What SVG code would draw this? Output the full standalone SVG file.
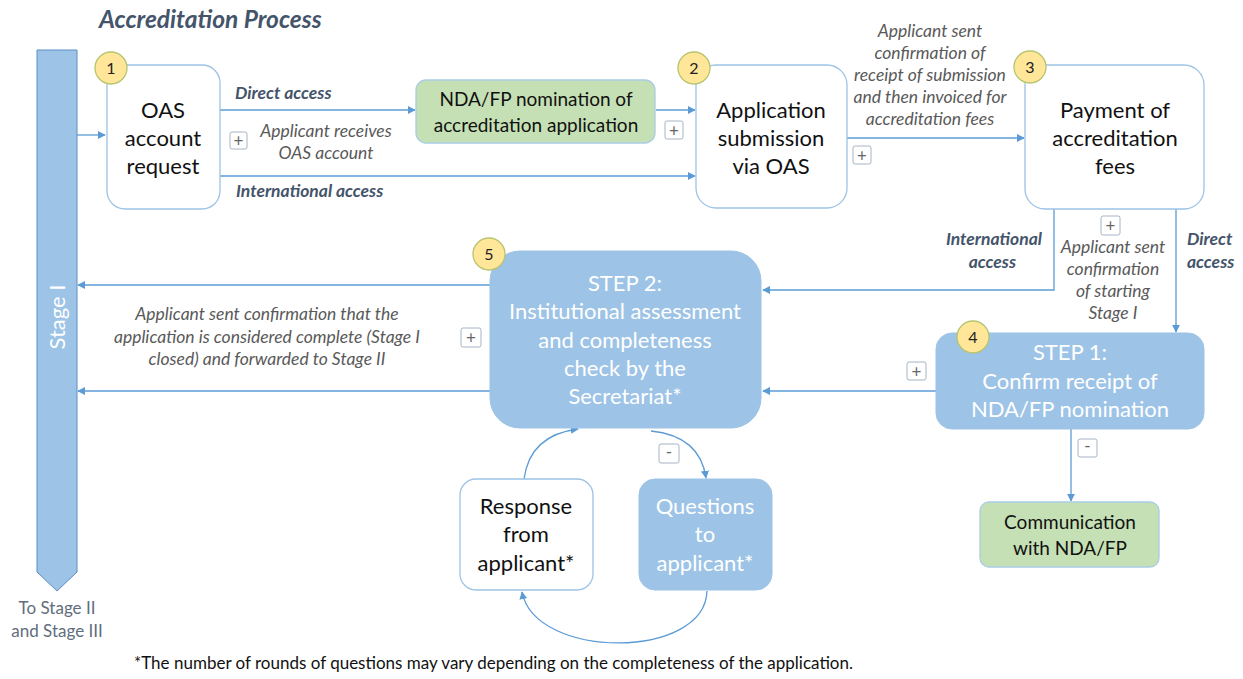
<svg xmlns="http://www.w3.org/2000/svg" width="1243" height="679" viewBox="0 0 1243 679">
<defs>
<marker id="ah" viewBox="0 0 10 10" refX="9" refY="5" markerWidth="8" markerHeight="8" markerUnits="userSpaceOnUse" orient="auto">
<path d="M0,0 L10,5 L0,10 z" fill="#5b9bd5"/>
</marker>
<style>
text{font-family:Lato,"Liberation Sans",sans-serif}
.ln{fill:none;stroke:#5b9bd5;stroke-width:1.3}
.wbox{fill:#fff;stroke:#9dc3e6;stroke-width:1.3}
.bbox{fill:#9dc3e6;stroke:#9dc3e6;stroke-width:1}
.gbox{fill:#c5e0b4;stroke:#a9cde3;stroke-width:1.3}
.badge{fill:#ffe699;stroke:#b7c46e;stroke-width:1.3}
.bt{font-size:16px;fill:#222;text-anchor:middle}
.nt{font-size:22px;fill:#111;text-anchor:middle}
.wt{font-size:22px;fill:#fff;text-anchor:middle}
.gt{font-size:19px;fill:#111;text-anchor:middle}
.lab{font-size:17.5px;fill:#595959;font-style:italic;text-anchor:middle}
.blab{font-size:17.5px;fill:#44546a;font-style:italic;font-weight:bold}
.pb{fill:#fff;stroke:#a6b4c4;stroke-width:1}
.pt{font-size:17px;fill:#666;text-anchor:middle}
</style>
</defs>
<text x="99" y="28" style="font-size:24.5px;font-weight:bold;font-style:italic;fill:#44546a">Accreditation Process</text>

<g id="stage-bar">
<path d="M37,50 H77 V572 L57,591 L37,572 Z" fill="#9dc3e6" stroke="#5b8ec4" stroke-width="1"/>
<text x="0" y="0" transform="translate(65,317) rotate(-90)" style="font-size:22px;fill:#fff;text-anchor:middle">Stage I</text>
<text x="57" y="614" style="font-size:17px;fill:#5f6d7e;text-anchor:middle">To Stage II</text>
<text x="57" y="637" style="font-size:17px;fill:#5f6d7e;text-anchor:middle">and Stage III</text>
</g>

<g id="connectors">
<line class="ln" x1="77" y1="135" x2="105" y2="135" marker-end="url(#ah)"/>
<line class="ln" x1="220" y1="110" x2="415" y2="110" marker-end="url(#ah)"/>
<line class="ln" x1="220" y1="176" x2="695" y2="176" marker-end="url(#ah)"/>
<line class="ln" x1="656" y1="110" x2="695" y2="110" marker-end="url(#ah)"/>
<line class="ln" x1="847" y1="138" x2="1024" y2="138" marker-end="url(#ah)"/>
<polyline class="ln" points="1054,209 1054,290 763,290" marker-end="url(#ah)"/>
<line class="ln" x1="1176" y1="209" x2="1176" y2="332" marker-end="url(#ah)"/>
<line class="ln" x1="936" y1="391" x2="763" y2="391" marker-end="url(#ah)"/>
<line class="ln" x1="1071" y1="429" x2="1071" y2="501" marker-end="url(#ah)"/>
<line class="ln" x1="490" y1="285" x2="78" y2="285" marker-end="url(#ah)"/>
<line class="ln" x1="490" y1="391" x2="78" y2="391" marker-end="url(#ah)"/>
<path class="ln" d="M524,479 Q530,435 578,429" marker-end="url(#ah)"/>
<path class="ln" d="M651,431 Q700,436 706,478" marker-end="url(#ah)"/>
<path class="ln" d="M707,591 C705,660 535,660 522,592" marker-end="url(#ah)"/>

<text x="235" y="99" class="blab">Direct access</text>
<text x="236" y="197" class="blab">International access</text>
<rect class="pb" x="230" y="132" width="17" height="17" rx="2"/><text x="238.5" y="146.5" class="pt">+</text>
<text x="326" y="137" class="lab">Applicant receives</text>
<text x="326" y="159" class="lab">OAS account</text>
<rect class="pb" x="665" y="121" width="18" height="18" rx="2"/><text x="674" y="136.5" class="pt">+</text>
<text x="930" y="37" class="lab">Applicant sent</text>
<text x="930" y="59" class="lab">confirmation of</text>
<text x="930" y="81" class="lab">receipt of submission</text>
<text x="930" y="103" class="lab">and then invoiced for</text>
<text x="930" y="125" class="lab">accreditation fees</text>
<rect class="pb" x="853" y="146" width="18" height="18" rx="2"/><text x="862" y="161.5" class="pt">+</text>
<text x="1042" y="245" class="blab" text-anchor="end">International</text>
<text x="1016" y="268" class="blab" text-anchor="end">access</text>
<text x="1187" y="245" class="blab">Direct</text>
<text x="1187" y="268" class="blab">access</text>
<rect class="pb" x="1101" y="216" width="19" height="19" rx="2"/><text x="1110.5" y="231.5" class="pt">+</text>
<text x="1113" y="253" class="lab">Applicant sent</text>
<text x="1113" y="275" class="lab">confirmation</text>
<text x="1113" y="297" class="lab">of starting</text>
<text x="1113" y="319" class="lab">Stage I</text>
<rect class="pb" x="907" y="362" width="19" height="18" rx="2"/><text x="916.5" y="377.5" class="pt">+</text>
<rect class="pb" x="1078" y="439" width="19" height="18" rx="2"/><text x="1087.5" y="452" class="pt">-</text>
<text x="267" y="320" class="lab">Applicant sent confirmation that the</text>
<text x="267" y="343" class="lab">application is considered complete (Stage I</text>
<text x="267" y="365" class="lab">closed) and forwarded to Stage II</text>
<rect class="pb" x="461" y="328" width="20" height="19" rx="2"/><text x="471" y="343.5" class="pt">+</text>
<rect class="pb" x="659" y="444" width="20" height="19" rx="2"/><text x="669" y="458" class="pt">-</text>
</g>

<g id="node1">
<rect class="wbox" x="107" y="65" width="113" height="144" rx="18"/>
<text x="163" y="118" class="nt">OAS</text>
<text x="163" y="146" class="nt">account</text>
<text x="163" y="174" class="nt">request</text>
<circle class="badge" cx="111" cy="68" r="16"/><text x="111" y="74" class="bt">1</text>
</g>

<g id="nda-nomination">
<rect class="gbox" x="416" y="80" width="239" height="63" rx="10"/>
<text x="536" y="106" class="gt">NDA/FP nomination of</text>
<text x="536" y="132" class="gt">accreditation application</text>
</g>

<g id="node2">
<rect class="wbox" x="696" y="65" width="151" height="143" rx="20"/>
<text x="771" y="118" class="nt">Application</text>
<text x="771" y="146" class="nt">submission</text>
<text x="771" y="174" class="nt">via OAS</text>
<circle class="badge" cx="694" cy="68" r="16"/><text x="694" y="74" class="bt">2</text>
</g>

<g id="node3">
<rect class="wbox" x="1025" y="65" width="179" height="144" rx="20"/>
<text x="1115" y="118" class="nt">Payment of</text>
<text x="1115" y="146" class="nt">accreditation</text>
<text x="1115" y="174" class="nt">fees</text>
<circle class="badge" cx="1030" cy="67" r="16"/><text x="1030" y="73" class="bt">3</text>
</g>

<g id="node4">
<rect class="bbox" x="936" y="333" width="268" height="96" rx="16"/>
<text x="1070" y="360" class="wt">STEP 1:</text>
<text x="1070" y="389" class="wt">Confirm receipt of</text>
<text x="1070" y="417" class="wt">NDA/FP nomination</text>
<circle class="badge" cx="973" cy="337" r="16"/><text x="973" y="343" class="bt">4</text>
</g>

<g id="communication">
<rect class="gbox" x="980" y="502" width="179" height="65" rx="9"/>
<text x="1070" y="529" class="gt">Communication</text>
<text x="1070" y="555" class="gt">with NDA/FP</text>
</g>

<g id="node5">
<rect class="bbox" x="490" y="251" width="271" height="177" rx="30"/>
<text x="625" y="291" class="wt">STEP 2:</text>
<text x="625" y="319" class="wt">Institutional assessment</text>
<text x="625" y="348" class="wt">and completeness</text>
<text x="625" y="376" class="wt">check by the</text>
<text x="625" y="404" class="wt">Secretariat*</text>
<circle class="badge" cx="489" cy="254" r="16"/><text x="489" y="260" class="bt">5</text>
</g>

<g id="response">
<rect class="wbox" x="460" y="479" width="133" height="111" rx="16"/>
<text x="526" y="514" class="nt">Response</text>
<text x="526" y="542" class="nt">from</text>
<text x="526" y="571" class="nt">applicant*</text>
</g>

<g id="questions">
<rect class="bbox" x="639" y="479" width="133" height="111" rx="16"/>
<text x="705" y="514" class="wt">Questions</text>
<text x="705" y="542" class="wt">to</text>
<text x="705" y="571" class="wt">applicant*</text>
</g>

<text x="134" y="669" style="font-size:17px;fill:#111">*The number of rounds of questions may vary depending on the completeness of the application.</text>
</svg>
